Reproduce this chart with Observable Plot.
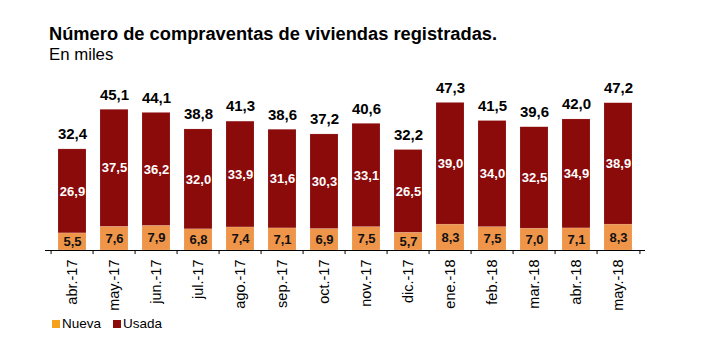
<!DOCTYPE html>
<html><head><meta charset="utf-8">
<script src="https://cdn.jsdelivr.net/npm/d3@7"></script>
<script src="https://cdn.jsdelivr.net/npm/@observablehq/plot@0.6"></script>
<style>
body{margin:0;background:#fff;font-family:Arial,"Liberation Sans",sans-serif;width:710px;height:360px;overflow:hidden;position:relative}
#title{position:absolute;left:49px;top:23px;font-size:18.3px;font-weight:bold;color:#000;white-space:nowrap}
#sub{position:absolute;left:49px;top:45px;font-size:16.8px;color:#000}
#chart{position:absolute;left:0;top:70px}
#legend{position:absolute;left:52px;top:316px;font-size:13.5px;color:#000;display:flex;align-items:center}
#legend span.sw{display:inline-block;width:8px;height:8px;margin-right:2px}
</style></head><body>
<div id="title">Número de compraventas de viviendas registradas.</div>
<div id="sub">En miles</div>
<div id="chart"></div>
<div id="legend"><span class="sw" style="background:#F5A11C"></span><span style="margin-right:12px">Nueva</span><span class="sw" style="background:#8B0A0A"></span><span>Usada</span></div>
<script>
const months = ["abr.-17","may.-17","jun.-17","jul.-17","ago.-17","sep.-17","oct.-17","nov.-17","dic.-17","ene.-18","feb.-18","mar.-18","abr.-18","may.-18"];
const nueva = [5.5,7.6,7.9,6.8,7.4,7.1,6.9,7.5,5.7,8.3,7.5,7.0,7.1,8.3];
const usada = [26.9,37.5,36.2,32.0,33.9,31.6,30.3,33.1,26.5,39.0,34.0,32.5,34.9,38.9];
const totals = [32.4,45.1,44.1,38.8,41.3,38.6,37.2,40.6,32.2,47.3,41.5,39.6,42.0,47.2];
const series = ["Nueva","Usada"];
const colors = ["#EF9549","#8B0A0A"];

const fmt = v => v.toFixed(1).replace(".", ",");
const rows = [];
months.forEach((m,i)=>{
  rows.push({month:m, tipo:"Nueva", y1:0, y2:nueva[i], v:nueva[i]});
  rows.push({month:m, tipo:"Usada", y1:nueva[i], y2:nueva[i]+usada[i], v:usada[i]});
});
const tot = months.map((m,i)=>({month:m, top:nueva[i]+usada[i], v:totals[i]}));
const step = 600/months.length;

const chart = Plot.plot({
  width:710, height:240,
  marginLeft:45, marginRight:65, marginTop:0, marginBottom:60,
  style:{fontFamily:"Arial, 'Liberation Sans', sans-serif", background:"transparent"},
  x:{domain:months, paddingInner:0.333, paddingOuter:0.1667, label:null},
  y:{domain:[0,50], range:[180,24], axis:null},
  color:{domain:series, range:colors},
  marks:[
    Plot.rectY(rows,{x:"month", y1:"y1", y2:"y2", fill:"tipo", stroke:"#fff", strokeOpacity:0.25, strokeWidth:0.5}),
    Plot.ruleY([0],{stroke:"#000", strokeWidth:1}),
    Plot.ruleX(months,{x:d=>d, dx:-step/2, y1:0, y2:-1.3, stroke:"#000", strokeWidth:1}),
    Plot.ruleX([months[months.length-1]],{x:d=>d, dx:step/2, y1:0, y2:-1.3, stroke:"#000", strokeWidth:1}),
    Plot.axisX({tickSize:0, tickPadding:9, tickRotate:-90, fontSize:14.5, fill:"#000", label:null}),
    Plot.text(rows,{x:"month", y:d=>(d.y1+d.y2)/2, text:d=>fmt(d.v), fill:d=>d.tipo==="Usada"?"#fff":"#111", fontWeight:"bold", fontSize:13}),
    Plot.text(tot,{x:"month", y:"top", dy:-15, text:d=>fmt(d.v), fill:"#000", fontWeight:"bold", fontSize:15})
  ]
});
document.getElementById("chart").appendChild(chart);
</script>
</body></html>
